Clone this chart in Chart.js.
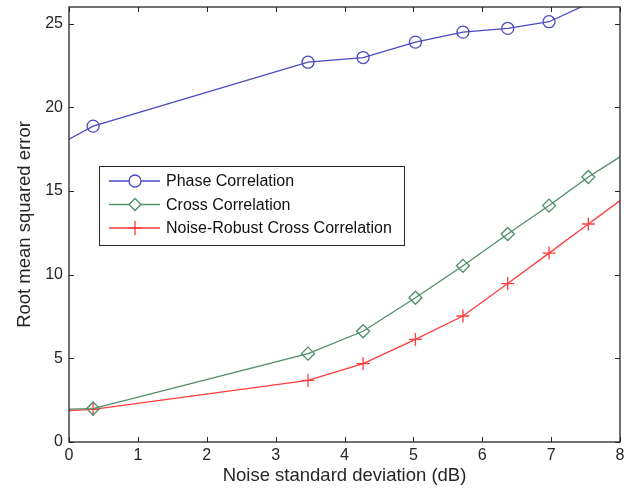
<!DOCTYPE html>
<html>
<head>
<meta charset="utf-8">
<script src="https://cdn.jsdelivr.net/npm/chart.js@4/dist/chart.umd.min.js"></script>
<style>
html, body { margin: 0; padding: 0; background: #fff; }
#wrap { width: 632px; height: 489px; }
</style>
</head>
<body>
<div id="wrap"><canvas id="grafico" width="632" height="489"></canvas></div>
<script>
// Datos
const ruido = [0, 0.35, 3.47, 4.27, 5.03, 5.72, 6.37, 6.97, 7.54, 8];
const faseCorr = [18.1, 18.88, 22.7, 22.98, 23.9, 24.5, 24.72, 25.12, 26.2, 27.0];
const crossCorr = [1.96, 2.0, 5.28, 6.62, 8.62, 10.53, 12.43, 14.13, 15.84, 17.04];
const robustCorr = [1.88, 1.95, 3.68, 4.68, 6.13, 7.53, 9.47, 11.29, 13.03, 14.43];
const ticksX = [0, 1, 2, 3, 4, 5, 6, 7, 8];
const ticksY = [0, 5, 10, 15, 20, 25];

const FUENTE = "'Liberation Sans', Arial, sans-serif";
const colorEje = '#262626';

function puntos(ys) {
    return ruido.map((x, i) => ({ x: x, y: ys[i] }));
}

// Sin marcador en los extremos (y en el punto de fase que queda fuera)
function radios(r, fueraIdx) {
    return ruido.map((x, i) => (i === 0 || i === ruido.length - 1 || i === fueraIdx) ? 0 : r);
}

// Marco completo con marcas hacia dentro (estilo MATLAB)
const marcoPlugin = {
    id: 'marco',
    afterDatasetsDraw(chart) {
        const { ctx, chartArea: a, scales } = chart;
        ctx.save();
        ctx.strokeStyle = colorEje;
        ctx.lineWidth = 1.3;
        ctx.strokeRect(a.left, a.top, a.right - a.left, a.bottom - a.top);
        ctx.beginPath();
        scales.x.ticks.forEach(t => {
            const px = Math.round(scales.x.getPixelForValue(t.value)) + 0.5;
            ctx.moveTo(px, a.bottom); ctx.lineTo(px, a.bottom - 5);
            ctx.moveTo(px, a.top); ctx.lineTo(px, a.top + 5);
        });
        scales.y.ticks.forEach(t => {
            const py = Math.round(scales.y.getPixelForValue(t.value)) + 0.5;
            ctx.moveTo(a.left, py); ctx.lineTo(a.left + 5, py);
            ctx.moveTo(a.right, py); ctx.lineTo(a.right - 5, py);
        });
        ctx.lineWidth = 1;
        ctx.stroke();
        ctx.restore();
    }
};

// Leyenda dentro del área del gráfico
const leyendaPlugin = {
    id: 'leyendaInterna',
    afterDraw(chart) {
        const ctx = chart.ctx;
        const caja = { x: 99, y: 166, w: 305, h: 79 };
        ctx.save();
        ctx.fillStyle = '#fff';
        ctx.fillRect(caja.x, caja.y, caja.w, caja.h);
        ctx.strokeStyle = colorEje;
        ctx.lineWidth = 1;
        ctx.strokeRect(caja.x + 0.5, caja.y + 0.5, caja.w, caja.h);
        ctx.font = '16px ' + FUENTE;
        ctx.textBaseline = 'middle';
        ctx.textAlign = 'left';
        chart.data.datasets.forEach((ds, i) => {
            const y = caja.y + 15 + i * 23.5;
            ctx.strokeStyle = ds.borderColor;
            ctx.lineWidth = ds.borderWidth;
            ctx.beginPath();
            ctx.moveTo(109, y); ctx.lineTo(160, y);
            ctx.stroke();
            ctx.fillStyle = '#fff';
            Chart.helpers.drawPoint(ctx, {
                pointStyle: ds.pointStyle,
                radius: ds.leyendaRadio,
                borderWidth: ds.pointBorderWidth,
                rotation: 0
            }, 135, y);
            ctx.fillStyle = '#111';
            ctx.fillText(ds.label, 166, y + 1);
        });
        ctx.restore();
    }
};

const ctx = document.getElementById('grafico').getContext('2d');
new Chart(ctx, {
    type: 'line',
    data: {
        datasets: [
            {
                label: 'Phase Correlation',
                data: puntos(faseCorr),
                borderColor: '#4a4ac4',
                borderWidth: 1.3,
                pointStyle: 'circle',
                pointRadius: radios(6, 8),
                pointBorderWidth: 1.3,
                pointBorderColor: '#4a4ac4',
                pointBackgroundColor: 'rgba(0,0,0,0)',
                leyendaRadio: 6,
                clip: 0
            },
            {
                label: 'Cross Correlation',
                data: puntos(crossCorr),
                borderColor: '#4f8f6a',
                borderWidth: 1.3,
                pointStyle: 'rectRot',
                pointRadius: radios(6.5, -1),
                pointBorderWidth: 1.3,
                pointBorderColor: '#4f8f6a',
                pointBackgroundColor: 'rgba(0,0,0,0)',
                leyendaRadio: 6,
                clip: 0
            },
            {
                label: 'Noise-Robust Cross Correlation',
                data: puntos(robustCorr),
                borderColor: '#ff3c3c',
                borderWidth: 1.3,
                pointStyle: 'cross',
                pointRadius: radios(6.5, -1),
                pointBorderWidth: 1.3,
                pointBorderColor: '#ff3c3c',
                pointBackgroundColor: 'rgba(0,0,0,0)',
                leyendaRadio: 7,
                clip: 0
            }
        ]
    },
    options: {
        responsive: false,
        animation: false,
        layout: { padding: { top: 7, right: 12, left: 0, bottom: 0 } },
        plugins: {
            legend: { display: false },
            tooltip: { enabled: false }
        },
        scales: {
            x: {
                type: 'linear',
                min: 0,
                max: 8,
                afterBuildTicks: s => { s.ticks = ticksX.map(v => ({ value: v })); },
                afterFit: s => { s.height = 47; s.paddingLeft = 0; s.paddingRight = 0; },
                grid: { display: false, drawTicks: false },
                border: { display: false },
                ticks: {
                    padding: 4,
                    color: colorEje,
                    font: { family: FUENTE, size: 16 },
                    maxRotation: 0
                },
                title: {
                    display: true,
                    text: 'Noise standard deviation (dB)',
                    color: colorEje,
                    font: { family: FUENTE, size: 18.5 },
                    padding: { top: 0, bottom: 2 }
                }
            },
            y: {
                type: 'linear',
                min: 0,
                max: 26,
                afterBuildTicks: s => { s.ticks = ticksY.map(v => ({ value: v })); },
                afterFit: s => { s.width = 69; s.paddingTop = 0; s.paddingBottom = 0; },
                grid: { display: false, drawTicks: false },
                border: { display: false },
                ticks: {
                    padding: 6,
                    color: colorEje,
                    font: { family: FUENTE, size: 16 }
                },
                title: {
                    display: true,
                    text: 'Root mean squared error',
                    color: colorEje,
                    font: { family: FUENTE, size: 18.5 },
                    padding: { top: 14, bottom: 0 }
                }
            }
        }
    },
    plugins: [marcoPlugin, leyendaPlugin]
});
</script>
</body>
</html>
